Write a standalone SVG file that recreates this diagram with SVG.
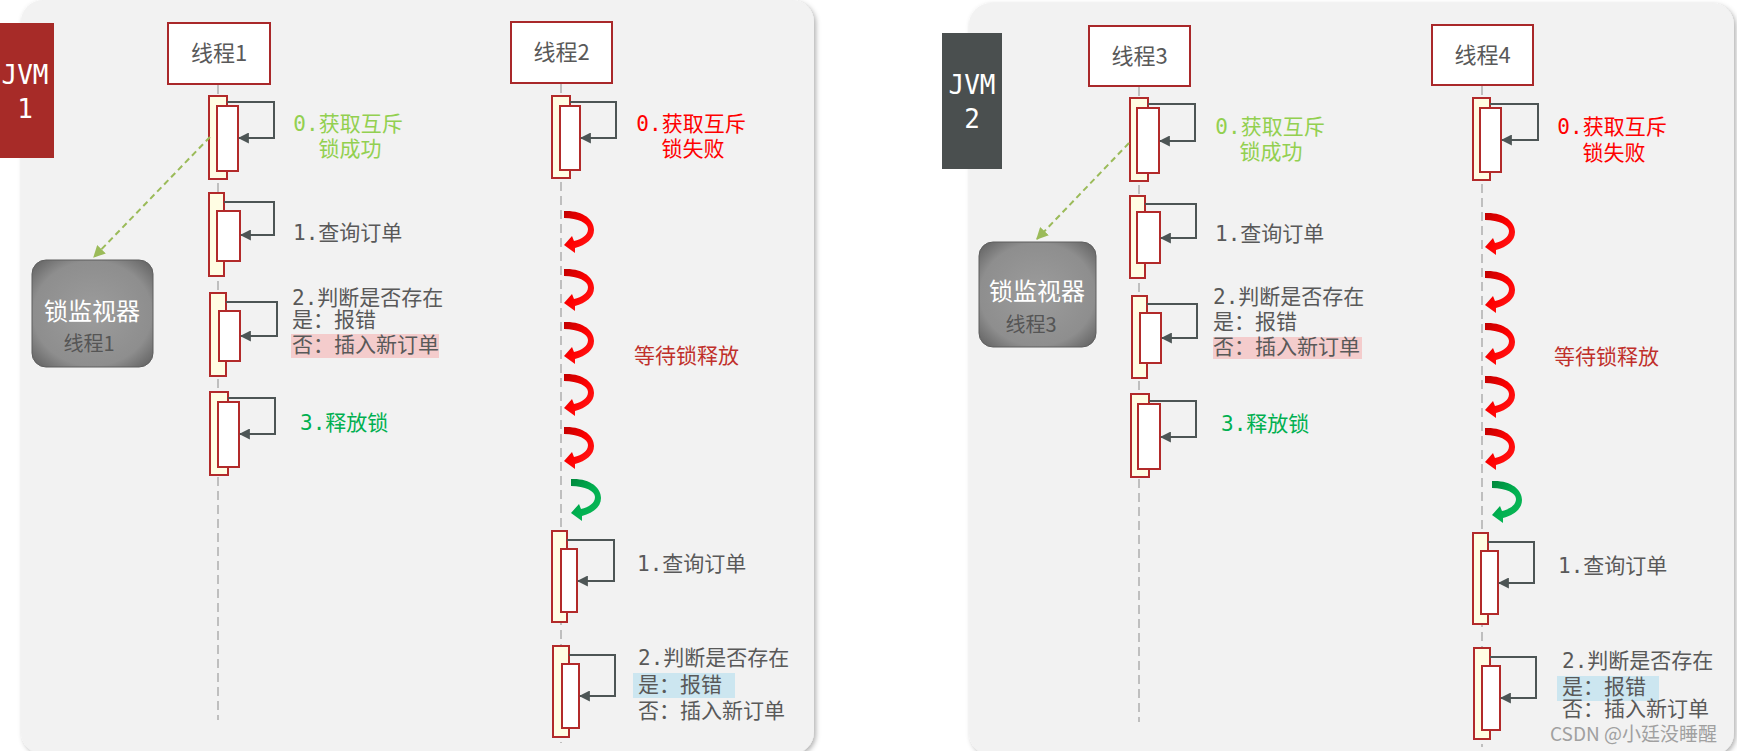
<svg xmlns="http://www.w3.org/2000/svg" xmlns:xlink="http://www.w3.org/1999/xlink" width="1737" height="751" viewBox="0 0 1737 751">
<style>
.panel{fill:#F2F2F2;}
.jvm{font-family:"DejaVu Sans Mono","Liberation Mono",monospace;font-size:26px;fill:#FFFFFF;text-anchor:middle;}
.tbox{fill:#FFFFFF;stroke:#A9282A;stroke-width:2;}
.ttl{font-family:"Noto Sans CJK SC",sans-serif;font-size:22px;fill:#595959;text-anchor:middle;}
.life{stroke:#BFBFBF;stroke-width:2;stroke-dasharray:9 5;fill:none;}
.outer{fill:#FFFDE3;stroke:#B22A2A;stroke-width:2;}
.inner{fill:#FFFFFF;stroke:#B22A2A;stroke-width:2;}
.self{fill:none;stroke:#4D5555;stroke-width:2;marker-end:url(#ah);}
.lbl{font-family:"DejaVu Sans Mono","Noto Sans CJK SC",monospace;font-size:21px;fill:#595959;}
.ok{fill:#92D050;}
.fail{fill:#FF0000;}
.rel{fill:#00B050;}
.wait{font-family:"Noto Sans CJK SC",sans-serif;font-size:21px;fill:#C0302B;}
.mid{text-anchor:middle;}
.mon{fill:url(#mong);stroke:#5F5F5F;stroke-width:1;}
.mont{font-family:"Noto Sans CJK SC",sans-serif;font-size:24px;fill:#FFFFFF;text-anchor:middle;}
.mons{font-family:"Noto Sans CJK SC",sans-serif;font-size:20px;fill:#555555;text-anchor:middle;}
.lock{fill:none;stroke:#9BBB59;stroke-width:2;stroke-dasharray:6 4;marker-end:url(#gah);}
.hlp{fill:#F4CCCC;}
.hlb{fill:#CCE6F0;}
.wm{font-family:"Noto Sans CJK SC",sans-serif;font-size:19px;fill:#A0A0A0;}
</style>
<defs>
<filter id="sh" x="-5%" y="-5%" width="110%" height="110%">
<feDropShadow dx="2" dy="2" stdDeviation="2.5" flood-color="#000000" flood-opacity="0.3"/>
</filter>
<radialGradient id="mong" cx="0.5" cy="0.5" r="0.7">
<stop offset="0" stop-color="#9C9C9C"/>
<stop offset="0.7" stop-color="#8E8E8E"/>
<stop offset="1" stop-color="#5E5E5E"/>
</radialGradient>
<linearGradient id="redg" x1="0" y1="0" x2="1" y2="1">
<stop offset="0" stop-color="#C00000"/>
<stop offset="0.5" stop-color="#FF0000"/>
<stop offset="1" stop-color="#FF2020"/>
</linearGradient>
<linearGradient id="greeng" x1="0" y1="0" x2="1" y2="1">
<stop offset="0" stop-color="#00873C"/>
<stop offset="0.5" stop-color="#00B050"/>
<stop offset="1" stop-color="#10B858"/>
</linearGradient>
<marker id="ah" viewBox="0 0 10 10" refX="9" refY="5" markerWidth="11" markerHeight="11" markerUnits="userSpaceOnUse" orient="auto">
<path d="M0,0 L10,5 L0,10 z" fill="#4D5555"/>
</marker>
<marker id="gah" viewBox="0 0 10 10" refX="9" refY="5" markerWidth="12" markerHeight="12" markerUnits="userSpaceOnUse" orient="auto">
<path d="M0,0 L10,5 L0,10 z" fill="#9BBB59"/>
</marker>
<path id="curl" d="M0 0 C18 -1 30 8 30 19 C30 28 22 34 11 37 L11 42 L0 34 L8 25 L10 30 C18 28 24 24 24 18 C24 12 14 7 0 7 Z"/>
</defs>

<rect width="1737" height="751" fill="#FFFFFF"/>

<g id="panel1">
<rect class="panel" x="21" y="0" width="793" height="754" rx="22" filter="url(#sh)"/>
</g>
<g id="panel2">
<rect class="panel" x="969" y="3" width="765" height="752" rx="22" filter="url(#sh)"/>
</g>

<g id="jvm1">
<rect x="-6" y="23" width="60" height="135" fill="#A72B28"/>
<text class="jvm" x="25" y="84">JVM</text>
<text class="jvm" x="25" y="118">1</text>
</g>
<g id="jvm2">
<rect x="942" y="33" width="60" height="136" fill="#4A4F4F"/>
<text class="jvm" x="972" y="94">JVM</text>
<text class="jvm" x="972" y="128">2</text>
</g>

<g id="lifelines">
<line class="life" x1="218" y1="85" x2="218" y2="720"/>
<line class="life" x1="561" y1="84" x2="561" y2="743"/>
<line class="life" x1="1139" y1="87" x2="1139" y2="722"/>
<line class="life" x1="1482" y1="86" x2="1482" y2="747"/>
</g>

<g id="thread1">
<rect class="tbox" x="168" y="23" width="102" height="61"/>
<text class="ttl" x="219" y="61">线程1</text>
</g>
<g id="thread2">
<rect class="tbox" x="511" y="22" width="101" height="61"/>
<text class="ttl" x="561.5" y="60">线程2</text>
</g>
<g id="thread3">
<rect class="tbox" x="1089" y="26" width="101" height="60"/>
<text class="ttl" x="1139.5" y="64">线程3</text>
</g>
<g id="thread4">
<rect class="tbox" x="1432" y="25" width="101" height="60"/>
<text class="ttl" x="1482.5" y="63">线程4</text>
</g>

<g id="monitor1">
<rect class="mon" x="32" y="260" width="121" height="107" rx="14"/>
<text class="mont" x="92" y="320">锁监视器</text>
<text class="mons" x="89" y="351">线程1</text>
</g>
<g id="monitor2">
<rect class="mon" x="979" y="242" width="117" height="105" rx="14"/>
<text class="mont" x="1037" y="300">锁监视器</text>
<text class="mons" x="1031" y="332">线程3</text>
</g>

<g id="t1-act0">
<rect class="outer" x="209" y="96" width="18" height="83"/>
<rect class="inner" x="217" y="106" width="21" height="65"/>
</g>
<g id="t1-act1">
<rect class="outer" x="209" y="193" width="15" height="83"/>
<rect class="inner" x="217" y="211" width="23" height="50"/>
</g>
<g id="t1-act2">
<rect class="outer" x="210" y="293" width="16" height="83"/>
<rect class="inner" x="219" y="311" width="21" height="50"/>
</g>
<g id="t1-act3">
<rect class="outer" x="210" y="392" width="18" height="83"/>
<rect class="inner" x="218" y="402" width="21" height="65"/>
</g>

<g id="t2-act0">
<rect class="outer" x="552" y="96" width="18" height="82"/>
<rect class="inner" x="560" y="106" width="20" height="64"/>
</g>
<g id="t2-act1">
<rect class="outer" x="552" y="531" width="15" height="91"/>
<rect class="inner" x="561" y="549" width="16" height="63"/>
</g>
<g id="t2-act2">
<rect class="outer" x="553" y="646" width="16" height="91"/>
<rect class="inner" x="562" y="664" width="17" height="64"/>
</g>

<g id="t3-act0">
<rect class="outer" x="1130" y="98" width="18" height="83"/>
<rect class="inner" x="1137" y="108" width="22" height="65"/>
</g>
<g id="t3-act1">
<rect class="outer" x="1130" y="196" width="15" height="82"/>
<rect class="inner" x="1137" y="212" width="23" height="51"/>
</g>
<g id="t3-act2">
<rect class="outer" x="1132" y="296" width="15" height="82"/>
<rect class="inner" x="1140" y="313" width="21" height="50"/>
</g>
<g id="t3-act3">
<rect class="outer" x="1131" y="394" width="18" height="83"/>
<rect class="inner" x="1138" y="404" width="22" height="65"/>
</g>

<g id="t4-act0">
<rect class="outer" x="1473" y="98" width="17" height="82"/>
<rect class="inner" x="1480" y="108" width="21" height="64"/>
</g>
<g id="t4-act1">
<rect class="outer" x="1473" y="533" width="15" height="91"/>
<rect class="inner" x="1481" y="551" width="17" height="63"/>
</g>
<g id="t4-act2">
<rect class="outer" x="1474" y="648" width="16" height="91"/>
<rect class="inner" x="1482" y="666" width="18" height="64"/>
</g>

<g id="connectors">
<path class="self" d="M227 102 H274 V138 H239"/>
<path class="self" d="M224 202 H274 V235 H241"/>
<path class="self" d="M226 302 H277 V336 H241"/>
<path class="self" d="M228 398 H275 V434 H240"/>
<path class="self" d="M570 102 H616 V138 H581"/>
<path class="self" d="M567 540 H614 V581 H578"/>
<path class="self" d="M569 655 H615 V696 H580"/>
<path class="self" d="M1148 104 H1195 V141 H1160"/>
<path class="self" d="M1145 204 H1196 V238 H1161"/>
<path class="self" d="M1147 304 H1197 V338 H1162"/>
<path class="self" d="M1149 401 H1196 V437 H1161"/>
<path class="self" d="M1490 104 H1538 V140 H1502"/>
<path class="self" d="M1488 542 H1534 V583 H1499"/>
<path class="self" d="M1490 657 H1536 V698 H1501"/>
<path class="lock" d="M210 137 L94 257"/>
<path class="lock" d="M1129 143 L1037 239"/>
</g>

<g id="wait-arrows-t2">
<use xlink:href="#curl" fill="url(#redg)" transform="translate(564 211)"/>
<use xlink:href="#curl" fill="url(#redg)" transform="translate(564 269)"/>
<use xlink:href="#curl" fill="url(#redg)" transform="translate(564 322)"/>
<use xlink:href="#curl" fill="url(#redg)" transform="translate(564 374)"/>
<use xlink:href="#curl" fill="url(#redg)" transform="translate(564 427)"/>
<use xlink:href="#curl" fill="url(#greeng)" transform="translate(571 479)"/>
</g>
<g id="wait-arrows-t4">
<use xlink:href="#curl" fill="url(#redg)" transform="translate(1485 213)"/>
<use xlink:href="#curl" fill="url(#redg)" transform="translate(1485 271)"/>
<use xlink:href="#curl" fill="url(#redg)" transform="translate(1485 323)"/>
<use xlink:href="#curl" fill="url(#redg)" transform="translate(1485 376)"/>
<use xlink:href="#curl" fill="url(#redg)" transform="translate(1485 428)"/>
<use xlink:href="#curl" fill="url(#greeng)" transform="translate(1492 481)"/>
</g>

<g id="labels-left">
<text class="lbl ok mid" x="348" y="131">0.获取互斥</text>
<text class="lbl ok mid" x="350" y="156">锁成功</text>
<text class="lbl" x="293" y="240">1.查询订单</text>
<rect class="hlp" x="291" y="334" width="148" height="24"/>
<text class="lbl" x="292" y="305">2.判断是否存在</text>
<text class="lbl" x="292" y="327">是：报错</text>
<text class="lbl" x="292" y="352">否：插入新订单</text>
<text class="lbl rel" x="300" y="430">3.释放锁</text>
<text class="lbl fail mid" x="691" y="131">0.获取互斥</text>
<text class="lbl fail mid" x="693" y="156">锁失败</text>
<text class="wait" x="634" y="363">等待锁释放</text>
<text class="lbl" x="637" y="571">1.查询订单</text>
<rect class="hlb" x="633" y="673" width="102" height="25"/>
<text class="lbl" x="638" y="665">2.判断是否存在</text>
<text class="lbl" x="638" y="692">是：报错</text>
<text class="lbl" x="638" y="718">否：插入新订单</text>
</g>

<g id="labels-right">
<text class="lbl ok mid" x="1270" y="134">0.获取互斥</text>
<text class="lbl ok mid" x="1271" y="159">锁成功</text>
<text class="lbl" x="1215" y="241">1.查询订单</text>
<rect class="hlp" x="1213" y="337" width="149" height="22"/>
<text class="lbl" x="1213" y="304">2.判断是否存在</text>
<text class="lbl" x="1213" y="329">是：报错</text>
<text class="lbl" x="1213" y="354">否：插入新订单</text>
<text class="lbl rel" x="1221" y="431">3.释放锁</text>
<text class="lbl fail mid" x="1612" y="134">0.获取互斥</text>
<text class="lbl fail mid" x="1614" y="160">锁失败</text>
<text class="wait" x="1554" y="364">等待锁释放</text>
<text class="lbl" x="1558" y="573">1.查询订单</text>
<rect class="hlb" x="1557" y="676" width="102" height="25"/>
<text class="lbl" x="1562" y="668">2.判断是否存在</text>
<text class="lbl" x="1562" y="694">是：报错</text>
<text class="lbl" x="1562" y="716">否：插入新订单</text>
</g>

<g id="watermark">
<text class="wm" x="1550" y="741">CSDN @小廷没睡醒</text>
</g>
</svg>
